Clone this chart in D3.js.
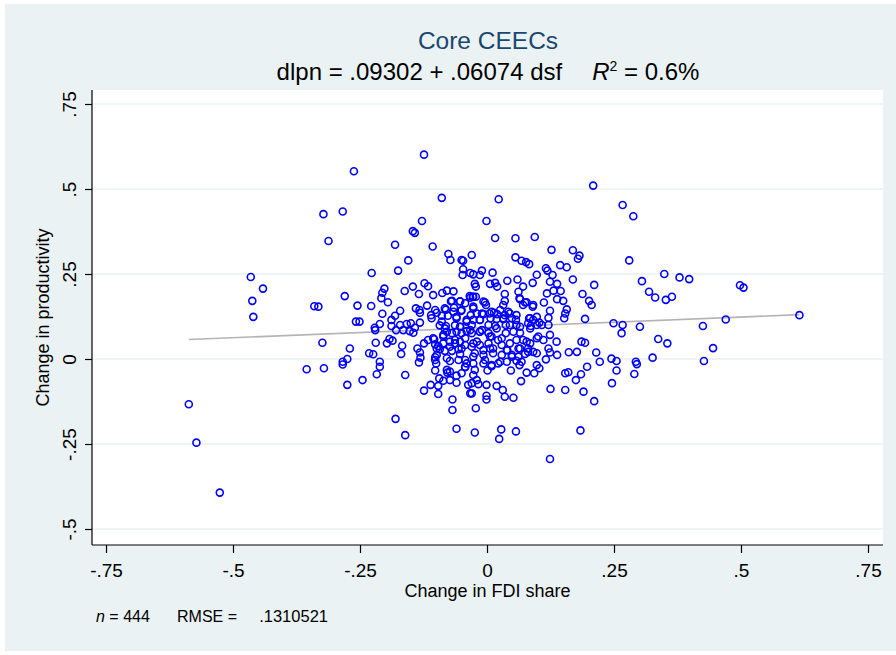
<!DOCTYPE html>
<html><head><meta charset="utf-8">
<script src="https://cdn.jsdelivr.net/npm/d3@7"></script>
<style>
html,body{margin:0;padding:0;background:#fff;}
svg{display:block;}
text{font-family:"Liberation Sans",Arial,Helvetica,sans-serif;white-space:pre;}
</style>
</head><body>
<svg id="chart" width="896" height="655"></svg>
<script>
// ---- data ----
const titleText = "Core CEECs";
const fitIntercept = 0.09302;
const fitSlope = 0.06074;
const r2Text = "0.6%";
const nObs = 444;
const rmseText = ".1310521";
const xTitle = "Change in FDI share";
const yTitle = "Change in productivity";

const xTicks = [-0.75, -0.5, -0.25, 0, 0.25, 0.5, 0.75];
const xTickLabels = ["-.75", "-.5", "-.25", "0", ".25", ".5", ".75"];
const yTicks = [-0.5, -0.25, 0, 0.25, 0.5, 0.75];
const yTickLabels = ["-.5", "-.25", "0", ".25", ".5", ".75"];

const obsLeft = [[-0.322,0.426],[-0.284,0.434],[-0.312,0.347],[-0.465,0.241],[-0.441,0.207],[-0.462,0.171],[-0.340,0.155],[-0.332,0.154],[-0.460,0.124],[-0.324,0.048],[-0.355,-0.030],[-0.321,-0.027],[-0.587,-0.133],[-0.572,-0.246],[-0.526,-0.393]];

const obsUpperLeft = [[-0.124,0.601],[-0.262,0.552],[-0.089,0.474],[-0.128,0.406],[-0.146,0.376],[-0.142,0.371],[-0.181,0.336],[-0.107,0.331],[-0.076,0.309],[-0.072,0.291],[-0.050,0.291],[-0.047,0.289],[-0.155,0.290],[-0.175,0.260],[-0.227,0.253],[-0.047,0.264],[-0.048,0.247],[-0.033,0.253],[-0.280,0.185],[-0.202,0.207],[-0.206,0.195],[-0.208,0.179],[-0.195,0.167],[-0.146,0.213],[-0.162,0.200],[-0.134,0.191],[-0.123,0.223],[-0.116,0.214],[-0.088,0.194],[-0.079,0.201],[-0.066,0.199],[-0.034,0.185],[-0.255,0.157],[-0.228,0.156],[-0.206,0.133],[-0.118,0.157],[-0.140,0.149],[-0.133,0.144],[-0.071,0.170],[-0.053,0.170],[-0.043,0.164],[-0.065,0.151],[-0.081,0.145],[-0.051,0.141],[-0.171,0.142],[-0.181,0.127],[-0.188,0.115],[-0.132,0.136],[-0.110,0.129],[-0.099,0.136],[-0.089,0.127],[-0.077,0.127],[-0.060,0.124],[-0.040,0.115],[-0.258,0.110],[-0.251,0.110],[-0.211,0.103],[-0.221,0.092],[-0.132,0.107],[-0.150,0.105],[-0.158,0.103],[-0.171,0.100],[-0.188,0.097],[-0.142,0.092],[-0.093,0.099],[-0.081,0.097],[-0.063,0.099],[-0.053,0.095]];

const obsUpperRight = [[0.209,0.510],[0.023,0.470],[-0.001,0.406],[0.016,0.356],[0.056,0.355],[0.094,0.359],[0.127,0.321],[0.169,0.320],[0.182,0.304],[0.179,0.295],[-0.030,0.306],[0.056,0.299],[0.068,0.289],[0.077,0.285],[0.083,0.279],[0.116,0.267],[0.119,0.260],[0.144,0.276],[0.157,0.270],[-0.010,0.260],[-0.014,0.247],[-0.027,0.249],[0.011,0.254],[0.098,0.248],[0.129,0.247],[0.169,0.234],[0.211,0.218],[-0.024,0.221],[-0.022,0.213],[0.006,0.221],[0.016,0.224],[0.020,0.213],[0.040,0.230],[0.060,0.234],[0.090,0.224],[0.124,0.227],[0.138,0.221],[0.071,0.213],[0.062,0.198],[0.131,0.201],[0.145,0.200],[0.118,0.193],[0.035,0.191],[-0.028,0.183],[-0.022,0.183],[0.064,0.179],[0.138,0.176],[0.150,0.171],[0.188,0.191],[0.201,0.171],[0.206,0.159],[0.035,0.171],[0.032,0.159],[-0.004,0.166],[-0.002,0.159],[0.075,0.166],[0.071,0.159],[0.090,0.154],[0.112,0.166],[-0.027,0.154],[0.124,0.142],[0.157,0.146],[0.154,0.134],[0.193,0.118],[0.152,0.120],[0.121,0.121],[-0.020,0.134],[-0.007,0.132],[0.005,0.134],[0.014,0.136],[0.020,0.132],[0.035,0.129],[0.045,0.134],[0.049,0.120],[0.057,0.115],[0.032,0.117],[0.019,0.118],[0.007,0.120],[-0.014,0.115],[0.083,0.120],[0.091,0.115],[0.081,0.105],[0.103,0.107],[0.108,0.100],[0.098,0.100],[0.086,0.097],[0.121,0.100],[0.058,0.100],[0.037,0.100],[0.016,0.097],[-0.010,0.085],[-0.030,0.100],[-0.027,0.115],[-0.032,0.129]];

const obsLowerLeft = [[-0.220,0.085],[-0.179,0.085],[-0.165,0.085],[-0.152,0.082],[-0.145,0.077],[-0.270,0.031],[-0.219,0.048],[-0.197,0.046],[-0.192,0.059],[-0.186,0.054],[-0.167,0.039],[-0.169,0.015],[-0.232,0.017],[-0.224,0.014],[-0.284,-0.008],[-0.284,-0.016],[-0.275,0.000],[-0.211,-0.008],[-0.211,-0.023],[-0.217,-0.045],[-0.245,-0.062],[-0.275,-0.076],[-0.161,-0.047],[-0.137,0.031],[-0.132,0.019],[-0.131,0.004],[-0.134,-0.010],[-0.124,0.046],[-0.116,0.056],[-0.104,0.058],[-0.102,0.043],[-0.096,0.038],[-0.086,0.071],[-0.079,0.080],[-0.069,0.076],[-0.060,0.080],[-0.050,0.076],[-0.040,0.082],[-0.086,0.046],[-0.073,0.051],[-0.063,0.046],[-0.053,0.051],[-0.043,0.041],[-0.093,0.029],[-0.083,0.024],[-0.069,0.024],[-0.056,0.029],[-0.053,0.015],[-0.099,0.012],[-0.102,0.005],[-0.073,-0.006],[-0.043,-0.003],[-0.040,-0.013],[-0.100,-0.013],[-0.102,-0.034],[-0.079,-0.032],[-0.078,-0.040],[-0.073,-0.037],[-0.043,-0.024],[-0.050,-0.042],[-0.060,-0.049],[-0.094,-0.057],[-0.086,-0.064],[-0.073,-0.062],[-0.060,-0.070],[-0.037,-0.076],[-0.033,-0.101],[-0.111,-0.076],[-0.096,-0.079],[-0.124,-0.093],[-0.096,-0.103],[-0.068,-0.119],[-0.068,-0.150],[-0.060,-0.205],[-0.180,-0.176],[-0.161,-0.224]];

const obsLowerRight = [[-0.030,0.076],[-0.014,0.080],[0.003,0.076],[0.009,0.066],[0.022,0.056],[0.037,0.076],[0.045,0.046],[0.065,0.077],[0.071,0.056],[0.085,0.046],[0.101,0.066],[0.111,0.056],[0.124,0.071],[0.137,0.051],[-0.027,0.046],[-0.014,0.041],[0.003,0.046],[0.006,0.031],[0.029,0.041],[0.040,0.026],[0.065,0.031],[0.081,0.031],[0.091,0.021],[0.121,0.031],[0.124,0.019],[0.138,0.012],[0.161,0.020],[0.177,0.021],[0.186,0.051],[0.193,0.048],[0.215,0.019],[0.222,-0.008],[-0.024,0.017],[-0.007,0.012],[0.012,0.017],[0.029,0.012],[0.049,0.012],[0.062,0.007],[0.075,0.015],[0.098,0.017],[0.116,-0.001],[-0.027,-0.013],[-0.007,-0.013],[0.009,-0.021],[0.022,-0.013],[0.039,-0.008],[0.058,-0.005],[0.064,-0.018],[0.098,-0.018],[0.103,-0.027],[0.078,-0.040],[0.093,-0.042],[0.047,-0.034],[0.001,-0.034],[-0.024,-0.032],[-0.027,-0.047],[-0.020,-0.062],[-0.017,-0.074],[-0.030,-0.071],[-0.001,-0.076],[0.019,-0.079],[0.031,-0.091],[0.067,-0.065],[0.154,-0.042],[0.160,-0.039],[0.185,-0.045],[0.197,-0.023],[0.175,-0.062],[0.125,-0.088],[0.154,-0.091],[0.190,-0.096],[0.211,-0.124],[-0.030,-0.101],[-0.001,-0.108],[-0.001,-0.119],[0.035,-0.111],[0.052,-0.114],[-0.022,-0.145],[-0.024,-0.216],[0.028,-0.207],[0.024,-0.235],[0.057,-0.213],[0.184,-0.210],[0.124,-0.294]];

const obsFarRight = [[0.267,0.453],[0.288,0.420],[0.280,0.290],[0.305,0.229],[0.349,0.250],[0.379,0.240],[0.398,0.235],[0.319,0.198],[0.331,0.181],[0.352,0.174],[0.364,0.183],[0.498,0.217],[0.505,0.210],[0.249,0.105],[0.267,0.100],[0.301,0.095],[0.425,0.097],[0.470,0.116],[0.615,0.129],[0.265,0.076],[0.337,0.059],[0.355,0.046],[0.445,0.032],[0.245,0.001],[0.255,-0.006],[0.293,-0.008],[0.295,-0.015],[0.326,0.004],[0.427,-0.006],[0.255,-0.034],[0.290,-0.044],[0.246,-0.071]];

const obsCore = [[-0.106,0.188],[-0.069,0.171],[-0.053,0.169],[-0.033,0.180],[-0.027,0.183],[-0.007,0.169],[0.065,0.176],[0.078,0.167],[0.091,0.159],[-0.102,0.144],[-0.083,0.149],[-0.066,0.139],[-0.050,0.144],[-0.027,0.149],[-0.010,0.134],[0.009,0.139],[0.026,0.144],[0.042,0.139],[0.058,0.129],[0.085,0.120],[0.098,0.124],[-0.109,0.120],[-0.089,0.110],[-0.060,0.120],[-0.040,0.110],[-0.014,0.115],[0.003,0.100],[0.032,0.120],[0.045,0.100],[0.065,0.095],[0.085,0.090],[-0.083,0.090],[-0.053,0.095],[-0.033,0.085],[-0.014,0.080],[0.019,0.090],[0.052,0.080],[-0.106,0.061],[-0.086,0.066],[-0.063,0.056],[-0.043,0.061],[-0.020,0.051],[0.006,0.066],[0.029,0.061],[0.058,0.056],[0.078,0.051],[0.098,0.061],[-0.099,0.031],[-0.073,0.036],[-0.050,0.031],[-0.030,0.036],[-0.007,0.026],[0.012,0.031],[0.039,0.026],[0.062,0.031],[0.081,0.021],[-0.102,-0.003],[-0.079,0.002],[-0.056,-0.003],[-0.027,0.007],[-0.004,-0.003],[0.026,-0.008],[0.049,0.007],[0.068,-0.008],[-0.043,-0.023],[0.009,-0.018]];

const obs = [].concat(obsLeft, obsUpperLeft, obsUpperRight, obsLowerLeft, obsLowerRight, obsFarRight, obsCore);

// ---- layout ----
const W = 896, H = 655;
const plot = {left: 92, right: 883, top: 90, bottom: 545};
const FONT = '"Liberation Sans", Arial, Helvetica, sans-serif';

const svg = d3.select("#chart");
svg.append("rect").attr("x", 5).attr("y", 4).attr("width", W - 5).attr("height", H - 8).attr("fill", "#eaf2f3");
svg.append("rect").attr("x", plot.left).attr("y", plot.top)
  .attr("width", plot.right - plot.left).attr("height", plot.bottom - plot.top).attr("fill", "#fff");

const x = d3.scaleLinear().domain([-0.75, 0.75]).range([106, 868]);
const y = d3.scaleLinear().domain([-0.5, 0.75]).range([529, 104]);

// gridlines
svg.append("g").selectAll("line").data(yTicks).join("line")
  .attr("x1", plot.left).attr("x2", plot.right)
  .attr("y1", d => y(d)).attr("y2", d => y(d))
  .attr("stroke", "#eaf2f3").attr("stroke-width", 1.5);

// fit line
const xExt = d3.extent(obs, d => d[0]);
svg.append("line")
  .attr("x1", x(xExt[0])).attr("y1", y(fitIntercept + fitSlope * xExt[0]))
  .attr("x2", x(xExt[1])).attr("y2", y(fitIntercept + fitSlope * xExt[1]))
  .attr("stroke", "#b4b4b4").attr("stroke-width", 1.6);

// points
svg.append("g").selectAll("circle").data(obs).join("circle")
  .attr("cx", d => x(d[0])).attr("cy", d => y(d[1])).attr("r", 3.5)
  .attr("fill", "none").attr("stroke", "#0000ff").attr("stroke-width", 1.6);

// x axis
const gx = svg.append("g").attr("transform", `translate(0,${plot.bottom})`)
  .call(d3.axisBottom(x).tickValues(xTicks).tickFormat((d, i) => xTickLabels[i]).tickSize(8).tickSizeOuter(0));
gx.select(".domain").remove();
gx.attr("font-family", FONT).attr("font-size", 19);
gx.selectAll(".tick line").attr("stroke", "#000").attr("stroke-width", 1.2);
gx.selectAll(".tick text").attr("fill", "#000").attr("y", 32).attr("dy", 0);
svg.append("line").attr("x1", plot.left).attr("x2", plot.right)
  .attr("y1", plot.bottom).attr("y2", plot.bottom).attr("stroke", "#000").attr("stroke-width", 1.2);

// y axis
const gy = svg.append("g").attr("transform", `translate(${plot.left},0)`)
  .call(d3.axisLeft(y).tickValues(yTicks).tickFormat((d, i) => yTickLabels[i]).tickSize(7).tickSizeOuter(0));
gy.select(".domain").remove();
gy.attr("font-family", FONT).attr("font-size", 19);
gy.selectAll(".tick line").attr("stroke", "#000").attr("stroke-width", 1.2);
gy.selectAll(".tick text").attr("fill", "#000")
  .attr("x", 0).attr("dy", 0).attr("text-anchor", "middle")
  .attr("transform", "translate(-16,0) rotate(-90)");
svg.append("line").attr("x1", plot.left).attr("x2", plot.left)
  .attr("y1", plot.top).attr("y2", plot.bottom).attr("stroke", "#000").attr("stroke-width", 1.2);

// axis titles
svg.append("text").attr("x", (plot.left + plot.right) / 2).attr("y", 597)
  .attr("text-anchor", "middle").attr("font-size", 18).text(xTitle);
svg.append("text").attr("transform", `translate(49,${(plot.top + plot.bottom) / 2}) rotate(-90)`)
  .attr("text-anchor", "middle").attr("font-size", 18).text(yTitle);

// titles
svg.append("text").attr("x", 488).attr("y", 49).attr("text-anchor", "middle")
  .attr("font-size", 24.5).attr("fill", "#1a476f").text(titleText);
const sub = svg.append("text").attr("x", 488).attr("y", 80).attr("text-anchor", "middle").attr("font-size", 24);
sub.append("tspan").text(`dlpn = ${String(fitIntercept).replace(/^0/, "")} + ${String(fitSlope).replace(/^0/, "")} dsf`);
sub.append("tspan").attr("dx", 30).attr("font-style", "italic").text("R");
sub.append("tspan").attr("font-size", 14).attr("dy", -9).text("2");
sub.append("tspan").attr("dy", 9).text(" = " + r2Text);

// note
const note = svg.append("text").attr("x", 96).attr("y", 622).attr("font-size", 16);
note.append("tspan").attr("font-style", "italic").text("n");
note.append("tspan").text(" = " + nObs);
svg.append("text").attr("x", 177).attr("y", 622).attr("font-size", 16).text("RMSE =");
svg.append("text").attr("x", 328).attr("y", 622).attr("font-size", 16.5).attr("text-anchor", "end").text(rmseText);
</script>
</body></html>
